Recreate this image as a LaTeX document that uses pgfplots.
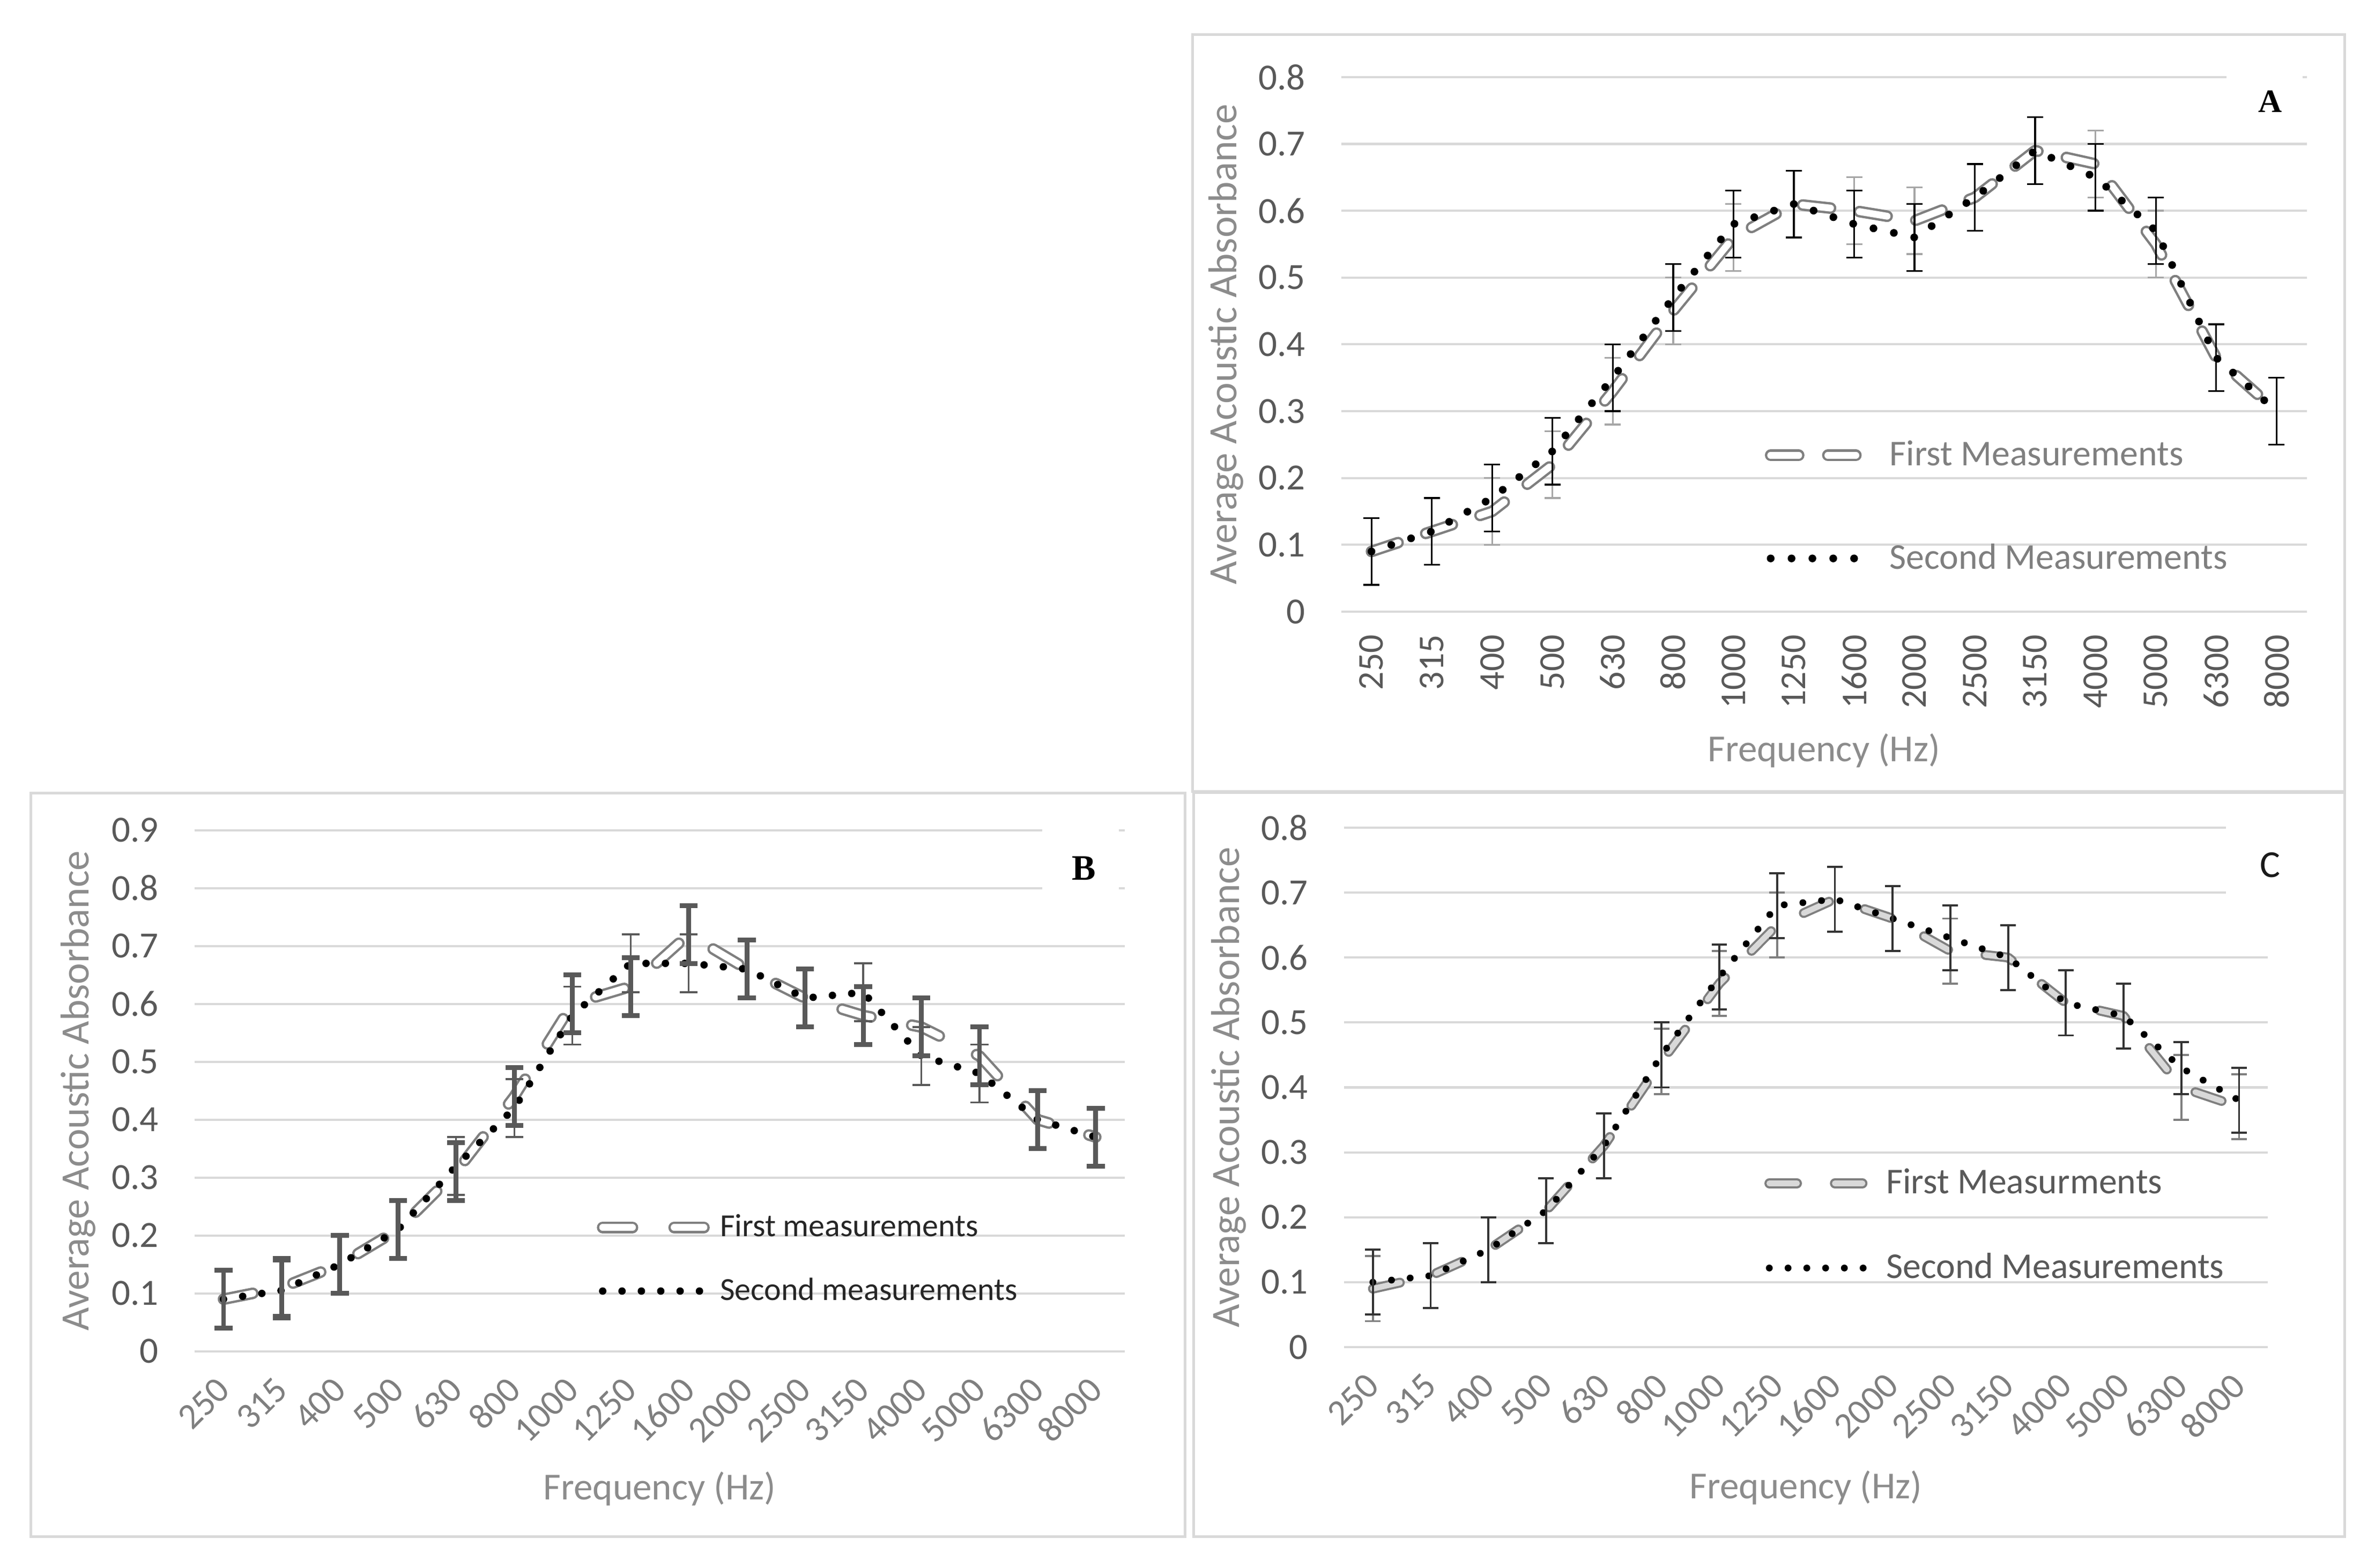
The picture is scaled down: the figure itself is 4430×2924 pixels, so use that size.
\documentclass[border=0pt]{standalone}
\usepackage{fontspec}
\setmainfont{Carlito}
\newfontfamily\serifL{Liberation Serif}
\usepackage{pgfplots}
\pgfplotsset{compat=1.18}
\usepackage{pgfplotstable}

\definecolor{gridc}{HTML}{D9D9D9}
\definecolor{framec}{HTML}{D9D9D9}
\definecolor{ytc}{HTML}{595959}
\definecolor{xtc}{HTML}{7F7F7F}
\definecolor{labc}{HTML}{8C8C8C}
\definecolor{firstc}{HTML}{7F7F7F}
\definecolor{ferrc}{HTML}{A6A6A6}
\definecolor{berrc}{HTML}{595959}
\definecolor{cfill}{HTML}{D9D9D9}

\pgfplotstableread{
x f fe s se
0 0.09 0.05 0.09 0.05
1 0.12 0.05 0.12 0.05
2 0.15 0.05 0.17 0.05
3 0.22 0.05 0.24 0.05
4 0.33 0.05 0.35 0.05
5 0.45 0.05 0.47 0.05
6 0.56 0.05 0.58 0.05
7 0.61 0.05 0.61 0.05
8 0.60 0.05 0.58 0.05
9 0.585 0.05 0.56 0.05
10 0.62 0.05 0.62 0.05
11 0.69 0.05 0.69 0.05
12 0.67 0.05 0.65 0.05
13 0.55 0.05 0.57 0.05
14 0.38 0.05 0.38 0.05
15 0.30 0.05 0.30 0.05
}\dataA

\pgfplotstableread{
x f fe s se
0 0.09 0.05 0.09 0.05
1 0.11 0.05 0.105 0.05
2 0.15 0.05 0.15 0.05
3 0.21 0.05 0.21 0.05
4 0.31 0.05 0.32 0.05
5 0.44 0.05 0.42 0.05
6 0.60 0.05 0.58 0.05
7 0.63 0.05 0.67 0.05
8 0.72 0.05 0.67 0.05
9 0.66 0.05 0.66 0.05
10 0.61 0.05 0.61 0.05
11 0.58 0.05 0.62 0.05
12 0.56 0.05 0.51 0.05
13 0.51 0.05 0.48 0.05
14 0.40 0.05 0.40 0.05
15 0.37 0.05 0.37 0.05
}\dataB

\pgfplotstableread{
x f fe s se
0 0.09 0.05 0.10 0.05
1 0.11 0.05 0.11 0.05
2 0.15 0.05 0.15 0.05
3 0.21 0.05 0.21 0.05
4 0.31 0.05 0.31 0.05
5 0.44 0.05 0.45 0.05
6 0.56 0.05 0.57 0.05
7 0.65 0.05 0.68 0.05
8 0.69 0.05 0.69 0.05
9 0.66 0.05 0.66 0.05
10 0.61 0.05 0.63 0.05
11 0.60 0.05 0.60 0.05
12 0.53 0.05 0.53 0.05
13 0.51 0.05 0.51 0.05
14 0.40 0.05 0.43 0.04
15 0.37 0.05 0.38 0.05
}\dataC

\pgfplotsset{
 panel/.style={
  scale only axis, xmin=-0.5, xmax=15.5, ymin=0,
  xtick={0,...,15},
  xticklabels={250,315,400,500,630,800,1000,1250,1600,2000,2500,3150,4000,5000,6300,8000},
  axis line style={draw=none}, tick style={draw=none}, major tick length=0pt,
  ymajorgrids, major grid style={draw=gridc, line width=0.75bp},
  /pgf/number format/assume math mode=true,
  yticklabel={\pgfmathprintnumber[fixed,precision=1]{\tick}},
  yticklabel style={font=\fontsize{12.4bp}{14bp}\selectfont, text=ytc, inner sep=0pt, anchor=east},
  yticklabel shift=11.9bp,
  ylabel={Average Acoustic Absorbance}, xlabel={Frequency (Hz)},
  ylabel style={font=\fontsize{13.5bp}{16bp}\selectfont, text=labc, anchor=center},
  xlabel style={font=\fontsize{12.8bp}{15bp}\selectfont, text=labc, anchor=center},
  legend cell align=left,
  legend style={draw=none, fill=none, inner sep=0pt, outer sep=0pt, anchor=north west},
 },
 firstline/.style={draw=firstc, line width=0.8bp, double=white, double distance=2.3bp, line cap=round, line join=round},
 secondline/.style={black, line width=2.6bp, line cap=round, dash pattern=on 0pt off 7bp},
 ebar/.style n args={3}{draw=none, forget plot, error bars/.cd, y dir=both, y explicit, error mark=|,
    error bar style={draw=#1, line width=#2, solid},
    error mark options={draw=#1, line width=#2, mark size=#3, solid}},
}

\begin{document}
\begin{tikzpicture}[x=0.18bp, y=0.18bp]
\useasboundingbox (0,0) rectangle (4430,2924);
\fill[white] (0,0) rectangle (4430,2924);
\draw[framec, line width=0.9bp] (2224,2859) rectangle (4373,1447);
\draw[framec, line width=0.9bp] (57,1444) rectangle (2210,58);
\draw[framec, line width=0.9bp] (2226,1445) rectangle (4373,58);

% ---------------- Panel A
\begin{axis}[panel, at={(450.31bp,320.94bp)}, anchor=south west, width=324.1bp, height=179.46bp,
  ymax=0.8, ytick={0,0.1,0.2,0.3,0.4,0.5,0.6,0.7,0.8},
  xticklabel style={font=\fontsize{12.2bp}{14bp}\selectfont, text=ytc, inner sep=0pt, rotate=90, anchor=east},
  xticklabel shift=7.6bp,
  ylabel style={at={(axis description cs:-0.1194,0.5)}},
  xlabel style={at={(axis description cs:0.5,0)}, yshift=-46.6bp},
  legend style={at={(axis cs:6.52,0.256)}, row sep=24.7bp, column sep=5bp,
     font=\fontsize{12.2bp}{14bp}\selectfont, nodes={inner sep=0pt, text=xtc}},
  legend image code/.code={\draw[#1] (0bp,0bp) -- (33bp,0bp);},
]
\addplot[firstline, dash pattern=on 9.4bp off 9.8bp] table[x=x,y=f]{\dataA};
\addlegendentry{First Measurements}
\addplot[secondline] table[x=x,y=s]{\dataA};
\addlegendentry{Second Measurements}
\addplot[ebar={ferrc}{0.6bp}{2.7bp}] table[x=x,y=f,y error=fe]{\dataA};
\addplot[ebar={black}{0.6bp}{2.7bp}] table[x=x,y=s,y error=se]{\dataA};
\end{axis}

% ---------------- Panel B
\begin{axis}[panel, at={(65.29bp,72.59bp)}, anchor=south west, width=312.35bp, height=174.96bp,
  ymax=0.9, ytick={0,0.1,0.2,0.3,0.4,0.5,0.6,0.7,0.8,0.9},
  xticklabel style={font=\fontsize{12.2bp}{14bp}\selectfont, text=xtc, inner sep=0pt, rotate=45, anchor=east},
  xticklabel shift=10.8bp,
  ylabel style={at={(axis description cs:-0.125,0.5)}},
  xlabel style={at={(axis description cs:0.5,0)}, yshift=-46.1bp},
  legend style={at={(axis cs:6.42,0.2368)}, row sep=12.4bp, column sep=1.5bp,
     font=\fontsize{10.8bp}{13bp}\selectfont, nodes={inner sep=0pt, text=black!85}},
  legend image code/.code={\draw[#1] (0bp,0bp) -- (36bp,0bp);},
]
\addplot[firstline, dash pattern=on 10bp off 14bp] table[x=x,y=f]{\dataB};
\addlegendentry{First measurements}
\addplot[secondline, line width=2.5bp, dash pattern=on 0pt off 6.5bp] table[x=x,y=s]{\dataB};
\addlegendentry{Second measurements}
\addplot[ebar={berrc}{1.6bp}{3bp}] table[x=x,y=f,y error=fe]{\dataB};
\addplot[ebar={berrc}{0.6bp}{3bp}] table[x=x,y=s,y error=se]{\dataB};
\end{axis}

% ---------------- Panel C
\begin{axis}[panel, at={(451.21bp,73.98bp)}, anchor=south west, width=310.19bp, height=174.42bp,
  ymax=0.8, ytick={0,0.1,0.2,0.3,0.4,0.5,0.6,0.7,0.8},
  xticklabel style={font=\fontsize{12.2bp}{14bp}\selectfont, text=xtc, inner sep=0pt, rotate=45, anchor=east},
  xticklabel shift=10.8bp,
  ylabel style={at={(axis description cs:-0.1248,0.5)}},
  xlabel style={at={(axis description cs:0.5,0)}, yshift=-47.2bp},
  legend style={at={(axis cs:6.78,0.2749)}, row sep=18.5bp, column sep=5.6bp,
     font=\fontsize{12.2bp}{14bp}\selectfont, nodes={inner sep=0pt, text=ytc}},
  legend image code/.code={\draw[#1] (0bp,0bp) -- (32bp,0bp);},
]
\addplot[firstline, double=cfill, line width=0.7bp, double distance=1.9bp, dash pattern=on 9.3bp off 12.7bp] table[x=x,y=f]{\dataC};
\addlegendentry{First Measurments}
\addplot[secondline, line width=2.3bp, dash pattern=on 0pt off 6.3bp] table[x=x,y=s]{\dataC};
\addlegendentry{Second Measurements}
\addplot[ebar={firstc}{0.7bp}{2.6bp}] table[x=x,y=f,y error=fe]{\dataC};
\addplot[ebar={black!80}{0.7bp}{2.6bp}] table[x=x,y=s,y error=se]{\dataC};
\end{axis}

% panel letters
\fill[white] (4153,2804) rectangle (4295,2664);
\node[font=\serifL\bfseries\fontsize{11bp}{13bp}\selectfont] at (4235,2735) {A};
\fill[white] (1944,1394) rectangle (2087,1224);
\node[font=\serifL\bfseries\fontsize{12bp}{14bp}\selectfont] at (2022,1304) {B};
\fill[white] (4152,1394) rectangle (4232,1234);
\node[font=\fontsize{12.8bp}{15bp}\selectfont, text=black!90] at (4234,1310) {C};
\end{tikzpicture}
\end{document}
